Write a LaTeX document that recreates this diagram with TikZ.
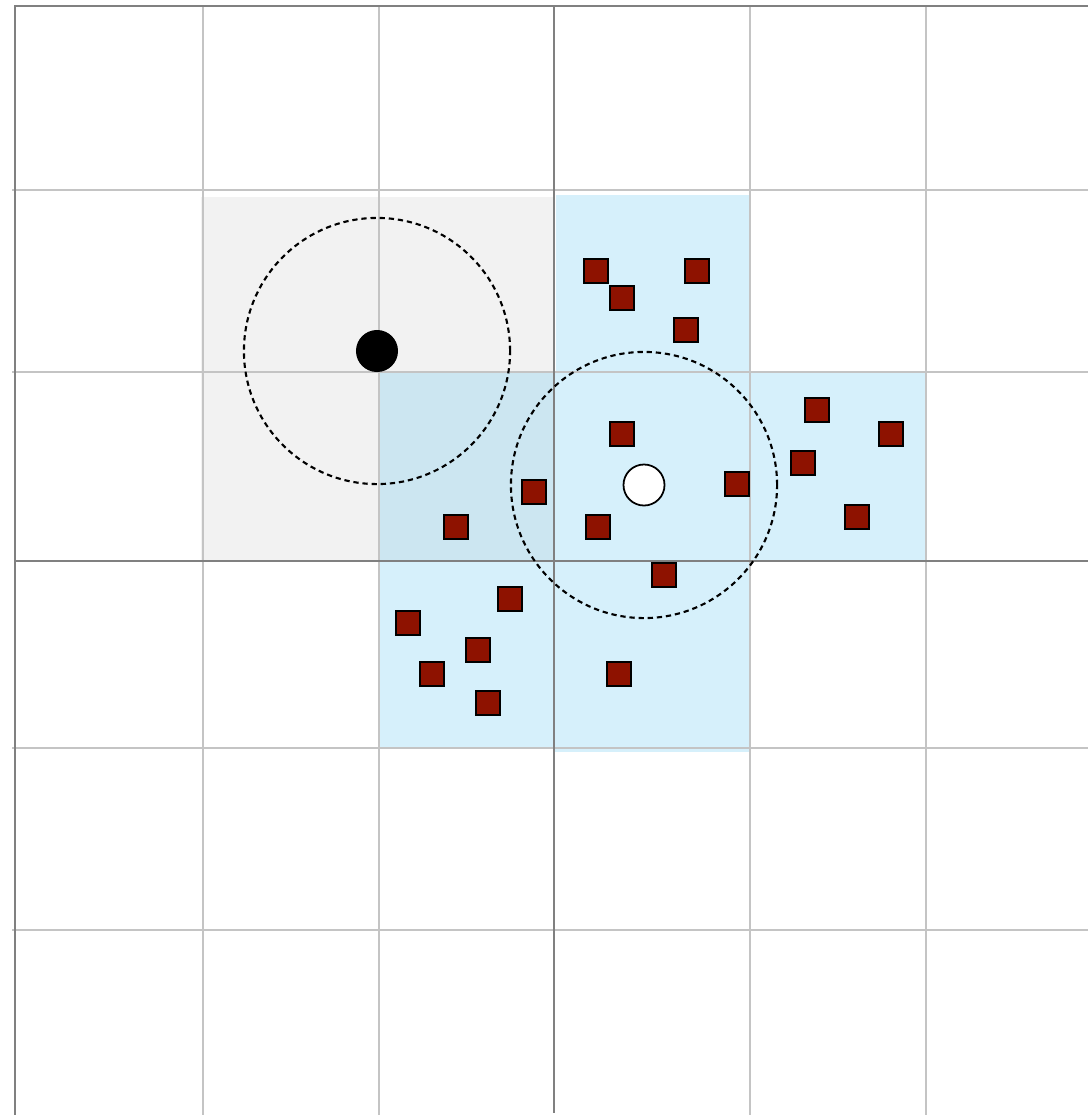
\documentclass[tikz,border=0pt]{standalone}
\usepackage{xcolor}
\usepackage{tikz}
\usetikzlibrary{positioning}

\definecolor{cellblue}{RGB}{108,201,240}
\definecolor{cellgray}{RGB}{242,242,242}
\definecolor{partred}{RGB}{142,18,0}

\tikzset{
  gridlight/.style={draw=black!23, line width=0.8pt},
  griddark/.style={draw=black!50, line width=0.65pt},
  nbcell/.style={fill=cellblue, fill opacity=0.28},
  particle/.style={draw=black, fill=partred, line width=0.6pt, minimum size=0.245cm, inner sep=0pt},
  searchrad/.style={draw=black, line width=0.6pt, dash pattern=on 1.5pt off 1.1pt},
}

\begin{document}
\begin{tikzpicture}[x=0.01cm, y=-0.01cm]
    \useasboundingbox (0,0) rectangle (1088,1115);
    % cells
    \fill[cellgray] (201,197) rectangle (554,561);
    \fill[nbcell] (556,195) rectangle (750,372);
    \fill[nbcell] (379,372) rectangle (554,748);
    \fill[nbcell] (554,372) rectangle (926,561);
    \fill[nbcell] (554,561) rectangle (750,752);
    % grid
    \foreach \gx in {203,379,750,926}
      \draw[gridlight] (\gx,6) -- (\gx,1115);
    \foreach \gy in {190,372,748,930}
      \draw[gridlight] (12,\gy) -- (1088,\gy);
    \draw[griddark] (15,1115) -- (15,6) -- (1088,6);
    \draw[griddark] (554,6) -- (554,1113);
    \draw[griddark] (15,561) -- (1088,561);
    % particles
    \foreach \px/\py [count=\i] in {596/271, 697/271, 622/298, 686/330,
        622/434, 534/492, 456/527, 598/527, 737/484, 664/575,
        817/410, 891/434, 803/463, 857/517,
        510/599, 408/623, 478/650, 432/674, 488/703, 619/674}
      \node[particle] (p\i) at (\px,\py) {};
    % query points
    \node[circle, fill=black, minimum size=0.42cm, inner sep=0pt] (qa) at (377,351) {};
    \node[circle, draw=black, fill=white, line width=0.5pt, minimum size=0.41cm, inner sep=0pt] (qb) at (644,485) {};
    \draw[searchrad] (qa) circle (1.33cm);
    \draw[searchrad] (qb) circle (1.33cm);
\end{tikzpicture}
\end{document}
